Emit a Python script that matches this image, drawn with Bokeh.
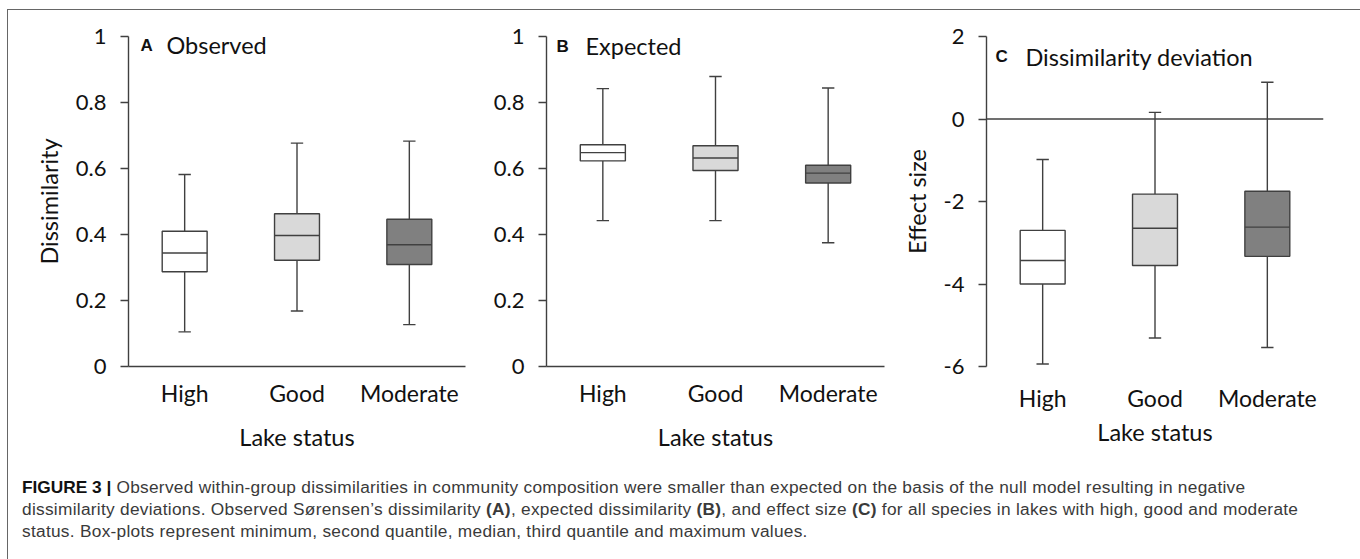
from bokeh.plotting import figure
from bokeh.models import ColumnDataSource, FactorRange, Range1d, FixedTicker, Span, Label, Div
from bokeh.layouts import row, column
from bokeh.transform import dodge
from bokeh.embed import file_html
from bokeh.resources import INLINE

categories = ["High", "Good", "Moderate"]
fills = ["#ffffff", "#d9d9d9", "#808080"]

obs_min = [0.105, 0.168, 0.127]
obs_q1 = [0.287, 0.322, 0.309]
obs_med = [0.344, 0.397, 0.369]
obs_q3 = [0.410, 0.463, 0.446]
obs_max = [0.582, 0.677, 0.683]

exp_min = [0.442, 0.442, 0.375]
exp_q1 = [0.623, 0.594, 0.556]
exp_med = [0.648, 0.632, 0.586]
exp_q3 = [0.672, 0.669, 0.610]
exp_max = [0.842, 0.879, 0.844]

es_min = [-5.94, -5.31, -5.54]
es_q1 = [-4.00, -3.55, -3.33]
es_med = [-3.43, -2.65, -2.62]
es_q3 = [-2.70, -1.82, -1.75]
es_max = [-0.98, 0.16, 0.89]

dis_ticks = [0, 0.2, 0.4, 0.6, 0.8, 1]
dis_labels = ["0", "0.2", "0.4", "0.6", "0.8", "1"]
es_ticks = [-6, -4, -2, 0, 2]
es_labels = ["-6", "-4", "-2", "0", "2"]

FONT = "Lato"
LINE = "#404040"
TXT = "#111111"
H = 445
TOP = 26
BOTTOM = 89


def panel(width, left, right, yr, ticks, labels, mins, q1s, meds, q3s, maxs,
          letter, title, ylabel, letter_pos, title_pos, xline=True, zero=False):
    p = figure(width=width, height=H, x_range=FactorRange(*categories),
               y_range=Range1d(*yr), output_backend="svg", toolbar_location=None,
               min_border_left=left, min_border_right=right,
               min_border_top=TOP, min_border_bottom=BOTTOM)
    p.xgrid.visible = False
    p.ygrid.visible = False
    p.outline_line_color = None
    p.background_fill_color = "white"
    p.border_fill_color = "white"

    src = ColumnDataSource(dict(cat=categories, lo=mins, q1=q1s, med=meds,
                                q3=q3s, hi=maxs, fill=fills))
    # whiskers
    p.segment(x0="cat", y0="hi", x1="cat", y1="q3", source=src,
              line_color=LINE, line_width=1.4)
    p.segment(x0="cat", y0="q1", x1="cat", y1="lo", source=src,
              line_color=LINE, line_width=1.4)
    # caps
    for col in ("hi", "lo"):
        p.segment(x0=dodge("cat", -0.055, range=p.x_range), y0=col,
                  x1=dodge("cat", 0.055, range=p.x_range), y1=col, source=src,
                  line_color=LINE, line_width=1.4)
    # boxes
    p.vbar(x="cat", width=0.4, bottom="q1", top="q3", source=src,
           fill_color="fill", line_color=LINE, line_width=1.4)
    # medians
    p.segment(x0=dodge("cat", -0.2, range=p.x_range), y0="med",
              x1=dodge("cat", 0.2, range=p.x_range), y1="med", source=src,
              line_color=LINE, line_width=1.4)

    if zero:
        p.add_layout(Span(location=0, dimension="width", line_color=LINE,
                          line_width=1.4))

    ya = p.yaxis[0]
    ya.ticker = FixedTicker(ticks=ticks)
    ya.major_label_overrides = {t: l for t, l in zip(ticks, labels)}
    ya.minor_tick_line_color = None
    ya.major_tick_out = 8
    ya.major_tick_in = 0
    ya.major_tick_line_color = LINE
    ya.major_tick_line_width = 1.4
    ya.axis_line_color = LINE
    ya.axis_line_width = 1.4
    ya.major_label_text_font = FONT
    ya.major_label_text_font_size = "22px"
    ya.major_label_text_color = TXT
    ya.major_label_standoff = 14
    if ylabel:
        ya.axis_label = ylabel
        ya.axis_label_text_font = FONT
        ya.axis_label_text_font_size = "23.5px"
        ya.axis_label_text_font_style = "normal"
        ya.axis_label_text_color = TXT
        ya.axis_label_standoff = 10

    xa = p.xaxis[0]
    xa.major_tick_out = 0
    xa.major_tick_in = 0
    xa.major_tick_line_color = None
    xa.axis_line_color = LINE if xline else None
    xa.axis_line_width = 1.4
    xa.major_label_text_font = FONT
    xa.major_label_text_font_size = "23px"
    xa.major_label_text_color = TXT
    xa.major_label_standoff = 12 if xline else 17
    xa.axis_label = "Lake status"
    xa.axis_label_text_font = FONT
    xa.axis_label_text_font_size = "23.5px"
    xa.axis_label_text_font_style = "normal"
    xa.axis_label_text_color = TXT
    xa.axis_label_standoff = 13 if xline else 3

    p.add_layout(Label(x=letter_pos[0], y=letter_pos[1], text=letter,
                       text_font="Liberation Sans", text_font_style="bold",
                       text_font_size="17px", text_baseline="middle",
                       text_color=TXT))
    p.add_layout(Label(x=title_pos[0], y=title_pos[1], text=title,
                       text_font=FONT, text_font_size="23.5px",
                       text_baseline="middle", text_color=TXT))
    return p


pa = panel(468, 120, 11, (0, 1), dis_ticks, dis_labels,
           obs_min, obs_q1, obs_med, obs_q3, obs_max,
           "A", "Observed", "Dissimilarity", (0.107, 0.973), (0.338, 0.973))
pb = panel(420, 70, 12, (0, 1), dis_ticks, dis_labels,
           exp_min, exp_q1, exp_med, exp_q3, exp_max,
           "B", "Expected", None, (0.089, 0.970), (0.346, 0.970))
pc = panel(459, 90, 32, (-6, 2), es_ticks, es_labels,
           es_min, es_q1, es_med, es_q3, es_max,
           "C", "Dissimilarity deviation", "Effect size", (0.08, 1.515),
           (0.347, 1.515), xline=False, zero=True)

caption_html = (
    '<div style="font-family:\'Liberation Sans\',Arial,sans-serif;font-size:17.3px;'
    'letter-spacing:0.28px;line-height:22px;color:#3a3a3a;padding:16px 0 0 9px;'
    'white-space:nowrap;">'
    '<b style="color:#111111;letter-spacing:0px">FIGURE 3 |</b> Observed within-group dissimilarities in community '
    'composition were smaller than expected on the basis of the null model resulting in negative<br>'
    'dissimilarity deviations. Observed S\u00f8rensen\u2019s dissimilarity <b>(A)</b>, expected '
    'dissimilarity <b>(B)</b>, and effect size <b>(C)</b> for all species in lakes with high, good '
    'and moderate<br>'
    'status. Box-plots represent minimum, second quantile, median, third quantile and maximum values.'
    '</div>'
)
caption = Div(text=caption_html, width=1347, height=102)

layout = column(row(pa, pb, pc), caption,
                styles={"border": "1px solid #666666", "background-color": "white",
                        "margin-left": "7px", "margin-top": "9px"})

open("out.html", "w").write(file_html(layout, INLINE))
